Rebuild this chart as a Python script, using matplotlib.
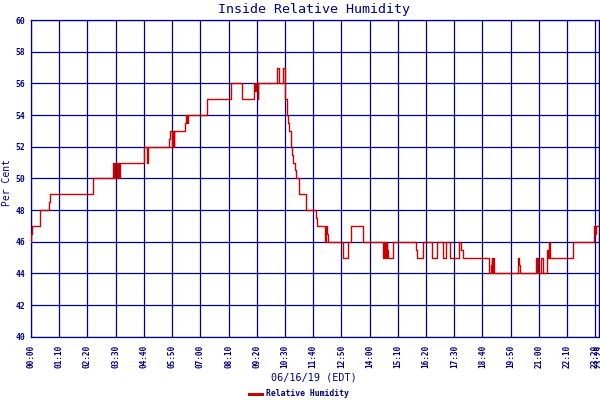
import matplotlib
matplotlib.use("Agg")
import matplotlib.pyplot as plt
import numpy as np

# minutes since midnight where the reading changes, and the reading from then on
minutes = [0, 1, 3, 22, 45, 46, 155, 203, 204, 207, 209, 213, 215, 218, 222,
           280, 281, 288, 290, 343, 346, 350, 352, 354, 355, 383, 385, 387, 390,
           437, 496, 524, 554, 556, 559, 562, 564, 611, 616, 625, 629, 631, 634,
           637, 639, 645, 647, 649, 654, 657, 666, 681, 708, 710, 730, 733, 735,
           737, 773, 786, 795, 824, 874, 876, 877, 879, 881, 882, 884, 886, 899,
           955, 958, 972, 995, 1006, 1021, 1029, 1039, 1062, 1067, 1071, 1137,
           1141, 1143, 1144, 1146, 1148, 1209, 1211, 1213, 1253, 1254, 1256, 1257,
           1264, 1271, 1281, 1283, 1286, 1287, 1344, 1397, 1400, 1402, 1409]
humidity = [46, 46.5, 47, 48, 48.5, 49, 50, 50.5, 51, 50, 51, 50, 51, 50, 51,
            51.5, 52, 51, 52, 52.5, 53, 52, 53, 52, 53, 53.5, 54, 53.5, 54,
            55, 56, 55, 56, 55.5, 56, 55, 56, 57, 56, 57, 56, 55, 54,
            53.5, 53, 52, 51.5, 51, 50.5, 50, 49, 48, 47.5, 47, 46, 47, 46.5,
            46, 45, 46, 47, 46, 45, 46, 45, 46, 45, 46, 45.5, 45, 46,
            45.5, 45, 46, 45, 46, 45, 46, 45, 46, 45.5, 45, 44,
            44.5, 45, 44, 45, 44, 45, 44.5, 44, 45, 44, 45, 44,
            45, 44, 45.5, 45, 46, 45, 46, 47, 46.5, 47, 47]

tick_minutes = list(range(0, 1401, 70)) + [1409]
tick_labels = ["00:00", "01:10", "02:20", "03:30", "04:40", "05:50", "07:00",
               "08:10", "09:20", "10:30", "11:40", "12:50", "14:00", "15:10",
               "16:20", "17:30", "18:40", "19:50", "21:00", "22:10", "23:20",
               "23:29"]
y_ticks = [40, 42, 44, 46, 48, 50, 52, 54, 56, 58, 60]

navy = "#000080"
red = "#C80000"
mono = "DejaVu Sans Mono"

fig = plt.figure(figsize=(6, 4), dpi=100)
ax = fig.add_axes([31/600, 1-336.7/400, (599-31)/600, (336.7-20)/400])

ax.step(minutes, humidity, where="post", color=red, lw=1.0,
        label="Relative Humidity", zorder=3)

ax.set_xlim(0, 1409)
ax.set_ylim(40, 60)
ax.set_xticks(tick_minutes)
ax.set_xticklabels(tick_labels, rotation=90, family=mono, fontsize=5.6,
                   fontweight="bold", color=navy)
ax.set_yticks(y_ticks)
ax.set_yticklabels([str(v) for v in y_ticks], family=mono, fontsize=5.8,
                   fontweight="bold", color=navy)
ax.tick_params(axis="both", length=0, pad=4)
ax.tick_params(axis="x", pad=6)
ax.grid(True, color=navy, lw=0.9)
ax.set_axisbelow(True)
for s in ax.spines.values():
    s.set_color(navy)
    s.set_linewidth(0.9)

fig.text(314/600, 1-9/400, "Inside Relative Humidity", ha="center", va="center",
         family=mono, fontsize=9.6, color=navy)
fig.text(314/600, 1-377/400, "06/16/19 (EDT)", ha="center", va="center",
         family=mono, fontsize=7.3, color=navy)
fig.text(7.5/600, 1-183/400, "Per Cent", ha="center", va="center", rotation=90,
         family=mono, fontsize=7.0, color=navy)

leg = fig.legend(loc="center", bbox_to_anchor=(299/600, 1-394/400),
                 frameon=False, handlelength=1.6, handletextpad=0.4,
                 borderpad=0, prop={"family": mono, "size": 5.9, "weight": "bold"})
for t in leg.get_texts():
    t.set_color(navy)
for h in leg.legend_handles:
    h.set_linewidth(2.2)

fig.savefig("out.png", dpi=100)
